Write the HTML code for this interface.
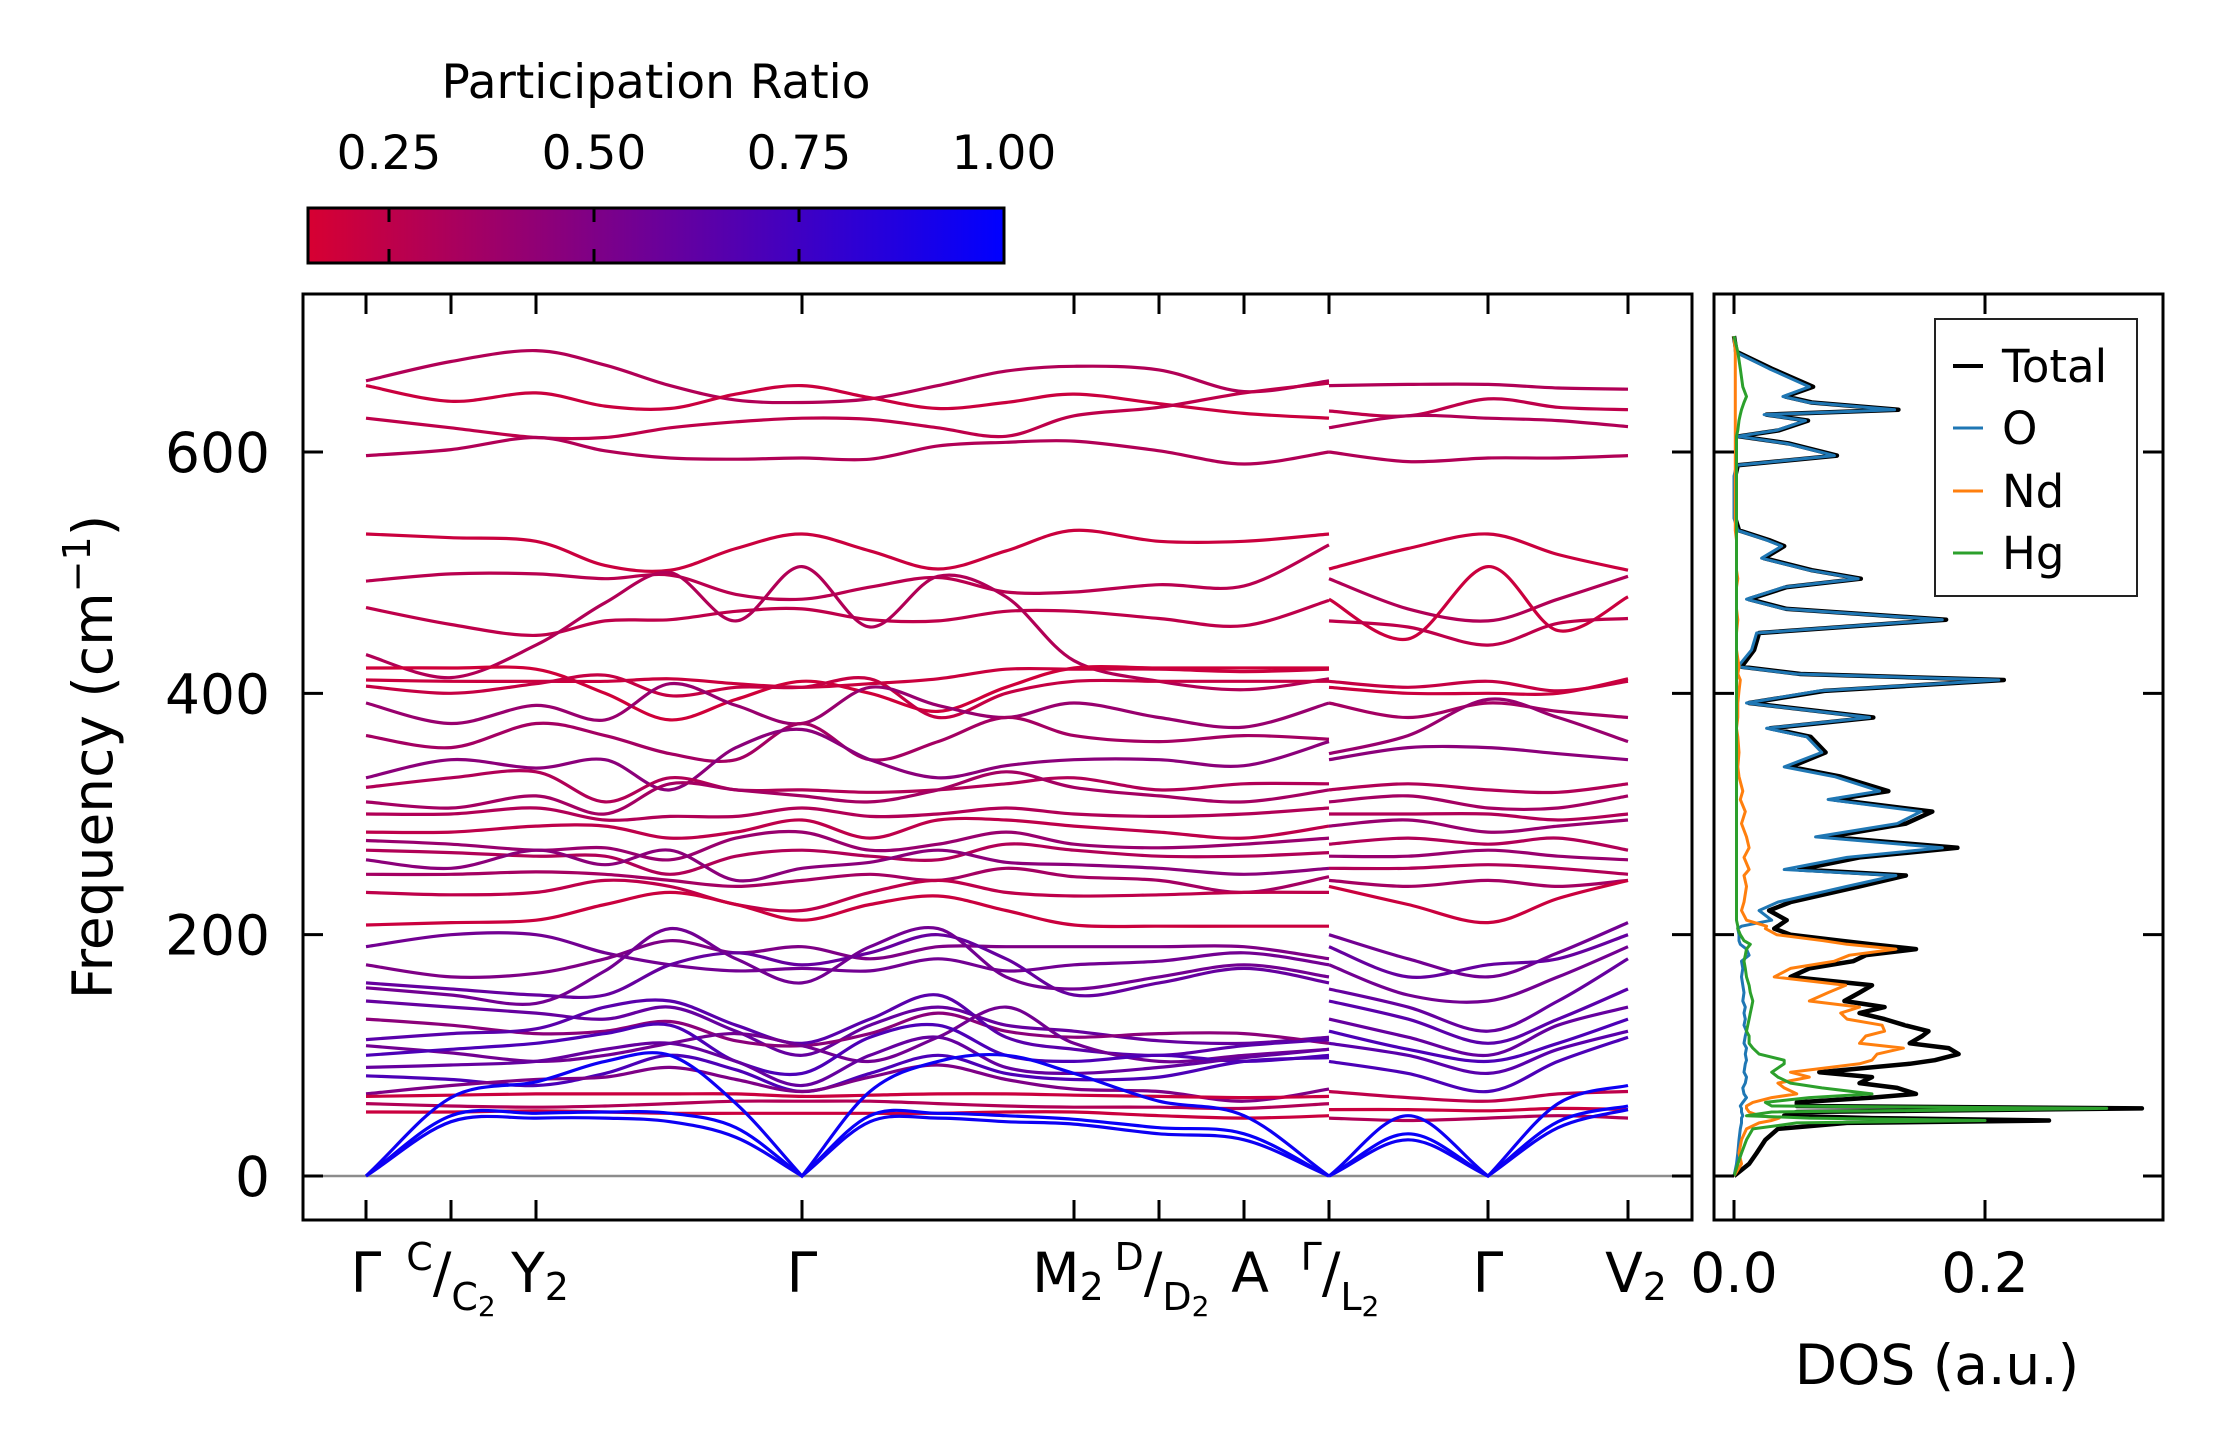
<!DOCTYPE html>
<html><head><meta charset="utf-8"><style>
html,body{margin:0;padding:0;background:#fff;}
svg{display:block;font-family:"DejaVu Sans","Liberation Sans",sans-serif;}
</style></head><body>
<svg id="fig" width="2222" height="1455" viewBox="0 0 2222 1455" xmlns="http://www.w3.org/2000/svg">
<defs>
<linearGradient id="cmap" x1="0" x2="1" y1="0" y2="0">
<stop offset="0" stop-color="rgb(215,0,50)"/><stop offset="1" stop-color="rgb(0,0,255)"/>
</linearGradient>
</defs>
<g>
<text x="656" y="98" font-size="47" text-anchor="middle">Participation Ratio</text>
<rect x="308" y="208" width="696" height="55" fill="url(#cmap)" stroke="#000" stroke-width="3"/>
<g id="cbticks"></g>
</g>
<g id="bandsG">
<line x1="303" x2="1692" y1="1176" y2="1176" stroke="#8c8c8c" stroke-width="2.5"/>
<g id="bandLines"></g>
<rect x="303" y="294" width="1389" height="926" fill="none" stroke="#000" stroke-width="3"/>
<g id="bandTicks"></g>
<text transform="translate(112,757) rotate(-90)" font-size="55" text-anchor="middle">Frequency (cm<tspan font-size="38" dy="-22">−1</tspan><tspan dy="22">)</tspan></text>
<g font-size="55">
<text x="366" y="1292" text-anchor="middle">Γ</text>
<text x="451" y="1292" text-anchor="middle"><tspan font-size="38" dy="-22">C</tspan><tspan dy="22">/</tspan><tspan font-size="38" dy="18">C</tspan><tspan font-size="28" dy="6">2</tspan></text>
<text x="540" y="1292" text-anchor="middle">Y<tspan font-size="38" dy="8">2</tspan></text>
<text x="802" y="1292" text-anchor="middle">Γ</text>
<text x="1068" y="1292" text-anchor="middle">M<tspan font-size="38" dy="8">2</tspan></text>
<text x="1162" y="1292" text-anchor="middle"><tspan font-size="38" dy="-22">D</tspan><tspan dy="22">/</tspan><tspan font-size="38" dy="18">D</tspan><tspan font-size="28" dy="6">2</tspan></text>
<text x="1250" y="1292" text-anchor="middle">A</text>
<text x="1340" y="1292" text-anchor="middle"><tspan font-size="38" dy="-22">Γ</tspan><tspan dy="22">/</tspan><tspan font-size="38" dy="18">L</tspan><tspan font-size="28" dy="6">2</tspan></text>
<text x="1488" y="1292" text-anchor="middle">Γ</text>
<text x="1636" y="1292" text-anchor="middle">V<tspan font-size="38" dy="8">2</tspan></text>
</g>
</g>
<g id="dosG">
<g id="dosLines"></g>
<rect x="1714" y="294" width="449" height="926" fill="none" stroke="#000" stroke-width="3"/>
<g id="dosTicks"></g>
<text x="1937" y="1384" font-size="55" text-anchor="middle">DOS (a.u.)</text>
<g>
<rect x="1935" y="319" width="202" height="277" fill="#fff" stroke="#222" stroke-width="2"/>
<line x1="1953" x2="1983" y1="366" y2="366" stroke="#000" stroke-width="4"/>
<text x="2002" y="382" font-size="45">Total</text>
<line x1="1953" x2="1983" y1="428" y2="428" stroke="#1f77b4" stroke-width="3"/>
<text x="2002" y="444" font-size="45">O</text>
<line x1="1953" x2="1983" y1="491" y2="491" stroke="#ff7f0e" stroke-width="3"/>
<text x="2002" y="507" font-size="45">Nd</text>
<line x1="1953" x2="1983" y1="553" y2="553" stroke="#2ca02c" stroke-width="3"/>
<text x="2002" y="569" font-size="45">Hg</text>
</g>
</g>
</svg>
<script>
// ---------- data ----------
const cbTicks = [0.25, 0.5, 0.75, 1.0];
const cbTickLabels = ["0.25", "0.50", "0.75", "1.00"];
const freqTicks = [0, 200, 400, 600];
const kTickPos = [0, 0.85, 1.7, 4.36, 7.08, 7.93, 8.78, 9.63, 11.22, 12.62];
const kSampleA = [0, 0.85, 1.7, 2.39, 3.04, 3.7, 4.36, 5.04, 5.72, 6.4, 7.08, 7.93, 8.78, 9.63];
const kSampleB = [9.63, 10.42, 11.22, 11.92, 12.62];
const bandsA = [
[659,675,684,672,655,643,641,644,655,667,671,668,650,659],
[655,642,649,638,636,648,655,645,636,641,648,640,632,628],
[628,620,612,612,620,625,628,627,620,613,630,637,649,657],
[597,602,612,601,595,594,595,594,605,608,609,601,590,600],
[532,529,526,506,502,520,532,518,503,518,535,526,526,532],
[493,499,499,495,498,482,478,488,496,484,484,490,489,523],
[471,457,448,460,461,468,470,461,460,468,468,462,456,477],
[432,413,440,475,500,460,505,455,497,480,427,410,403,412],
[421,421,420,400,378,395,410,400,385,405,421,421,421,421],
[411,410,410,410,412,408,405,408,412,420,420,420,418,420],
[406,400,408,415,398,405,405,412,380,400,410,410,410,410],
[392,375,390,378,408,390,375,405,390,380,392,380,372,392],
[365,355,375,365,350,345,375,345,360,380,365,360,365,362],
[330,345,338,345,320,355,370,345,330,340,345,345,340,360],
[322,330,335,310,330,320,320,318,320,325,330,320,325,325],
[310,305,315,300,325,320,315,310,320,335,322,315,310,320],
[300,300,305,295,298,298,305,298,300,305,300,298,300,305],
[285,285,290,290,280,285,295,280,295,295,290,285,280,290],
[278,275,270,272,262,280,285,270,275,285,275,272,275,280],
[270,268,265,265,250,265,270,265,262,275,270,265,265,268],
[262,255,270,258,270,245,255,260,270,260,258,255,250,255],
[250,250,252,250,245,240,245,250,245,255,248,245,235,248],
[235,233,235,245,240,225,220,235,245,235,232,233,235,235],
[208,210,212,225,235,225,212,225,232,220,208,207,207,207],
[190,200,200,185,175,170,172,170,180,170,175,178,185,175],
[175,165,168,180,195,185,190,180,190,190,190,190,190,180],
[160,155,150,150,175,185,175,185,200,180,150,160,172,160],
[156,150,143,170,205,180,160,190,205,165,155,165,175,165],
[145,140,135,130,140,120,100,125,140,125,120,112,110,115],
[130,125,118,120,128,112,108,118,135,120,115,118,118,110],
[113,118,122,140,145,125,110,130,150,115,105,100,108,113],
[108,102,95,100,110,118,108,95,115,140,110,95,100,105],
[100,105,110,118,125,95,85,115,125,100,95,100,95,100],
[90,92,95,105,110,95,75,100,115,90,85,90,98,105],
[83,80,75,85,100,88,70,85,100,85,80,82,95,98],
[68,75,80,82,90,80,70,82,92,80,72,70,62,72],
[66,67,68,68,68,68,66,67,68,68,67,66,65,66],
[60,58,57,58,60,62,62,62,60,58,57,57,56,60],
[53,53,54,53,52,52,52,52,52,53,53,50,48,50],
[0,65,78,95,100,60,0,70,95,100,85,62,50,0],
[0,50,52,53,52,40,0,50,52,50,47,40,35,0],
[0,45,48,48,45,32,0,45,48,45,43,35,30,0]
];
const prA = [0.3,0.2,0.25,0.3,0.2,0.27,0.25,0.3,0.18,0.2,0.22,0.4,0.35,0.45,0.3,0.35,0.3,0.25,0.4,0.3,0.45,0.35,0.25,0.2,0.55,0.5,0.6,0.55,0.6,0.45,0.65,0.55,0.7,0.6,0.7,0.5,0.2,0.3,0.2,0.95,0.97,0.95];
const bandsB = [
[655,656,656,653,652],[634,630,644,637,635],[620,630,628,626,621],[600,592,595,595,597],
[503,520,532,515,502],[495,470,460,478,497],[478,445,505,452,480],[460,455,440,458,462],
[410,405,410,402,410],[405,400,400,400,412],[392,380,392,385,380],[350,365,395,380,360],[345,355,355,350,345],
[320,325,320,318,325],[310,315,305,305,315],[300,300,300,295,300],[290,295,285,290,295],[275,280,275,280,270],
[265,265,270,265,262],[255,255,258,255,250],[245,240,245,240,245],[240,225,210,230,245],
[200,180,165,185,210],[190,165,175,180,200],[175,150,145,165,190],[155,140,120,145,180],[145,130,110,130,155],
[130,115,100,125,140],[120,105,95,110,130],[110,100,85,105,120],[95,85,70,95,115],[70,65,62,68,70],
[55,55,54,56,55],[48,46,48,50,48],[0,50,0,60,75],[0,35,0,45,58],[0,30,0,40,55]
];
const prB = [0.3,0.25,0.3,0.3,0.2,0.3,0.2,0.25,0.22,0.2,0.35,0.4,0.45,0.3,0.35,0.3,0.4,0.3,0.4,0.3,0.35,0.2,0.55,0.6,0.55,0.6,0.65,0.6,0.7,0.65,0.7,0.25,0.2,0.3,0.95,0.97,0.95];

const dosTicks = [0.0, 0.2];
const dosTickLabels = ["0.0", "0.2"];
const dosFreq = [0,10,19,30,39,44,46,48,50,53,56,58,61,65,68,73,77,82,86,93,96,101,106,110,116,120,125,130,135,140,145,152,158,165,172,178,183,188,192,195,200,205,207,212,220,227,240,249,254,264,272,281,292,302,312,319,331,339,351,364,371,380,392,402,411,416,422,436,450,461,470,478,488,495,502,512,522,527,535,545,560,580,589,597,607,613,618,626,631,635,641,646,654,669,683,696];
const dosTotal = [0,0.012,0.018,0.025,0.035,0.09,0.251,0.11,0.04,0.05,0.325,0.05,0.05,0.11,0.145,0.13,0.1,0.11,0.068,0.14,0.16,0.179,0.171,0.14,0.15,0.155,0.136,0.12,0.1,0.12,0.088,0.1,0.11,0.045,0.06,0.095,0.105,0.145,0.11,0.085,0.045,0.032,0.035,0.042,0.028,0.045,0.1,0.137,0.052,0.1,0.178,0.075,0.137,0.158,0.08,0.123,0.085,0.045,0.073,0.061,0.029,0.111,0.012,0.072,0.215,0.053,0.006,0.016,0.02,0.169,0.042,0.012,0.042,0.101,0.062,0.024,0.04,0.028,0.004,0.001,0.001,0.001,0.003,0.082,0.044,0.004,0.036,0.059,0.026,0.131,0.062,0.041,0.063,0.03,0.002,0];
const dosO = [0,0.002,0.003,0.004,0.005,0.006,0.006,0.006,0.007,0.006,0.006,0.005,0.007,0.01,0.008,0.007,0.009,0.01,0.008,0.009,0.01,0.009,0.01,0.008,0.009,0.01,0.008,0.009,0.008,0.009,0.007,0.008,0.007,0.006,0.007,0.006,0.012,0.01,0.005,0.004,0.004,0.003,0.006,0.03,0.02,0.035,0.09,0.129,0.04,0.09,0.166,0.065,0.13,0.149,0.075,0.116,0.08,0.04,0.07,0.058,0.026,0.108,0.01,0.068,0.211,0.05,0.003,0.014,0.018,0.166,0.04,0.01,0.04,0.099,0.06,0.022,0.038,0.026,0.003,0,0,0,0.002,0.08,0.042,0.003,0.034,0.057,0.024,0.128,0.06,0.039,0.06,0.028,0.001,0];
const dosNd = [0,0.006,0.004,0.006,0.01,0.02,0.03,0.036,0.02,0.012,0.01,0.01,0.015,0.03,0.05,0.04,0.035,0.06,0.045,0.1,0.11,0.114,0.135,0.1,0.105,0.12,0.118,0.09,0.085,0.1,0.06,0.075,0.089,0.032,0.045,0.08,0.092,0.129,0.09,0.071,0.034,0.025,0.026,0.01,0.006,0.008,0.01,0.008,0.012,0.008,0.012,0.01,0.006,0.009,0.005,0.007,0.004,0.003,0.004,0.003,0.002,0.003,0.003,0.004,0.005,0.003,0.004,0.002,0.002,0.003,0.002,0.002,0.002,0.003,0.002,0.002,0.002,0.002,0.001,0.001,0.001,0.001,0.001,0.001,0.001,0.001,0.001,0.001,0.001,0.001,0.001,0.001,0.001,0.001,0.001,0];
const dosHg = [0,0.003,0.006,0.01,0.015,0.05,0.2,0.06,0.01,0.03,0.297,0.03,0.025,0.06,0.11,0.07,0.045,0.035,0.03,0.04,0.04,0.02,0.015,0.012,0.012,0.01,0.011,0.012,0.013,0.014,0.015,0.013,0.012,0.01,0.009,0.008,0.009,0.01,0.013,0.008,0.005,0.003,0.003,0.002,0.002,0.002,0.002,0.002,0.002,0.002,0.002,0.002,0.002,0.002,0.002,0.002,0.002,0.002,0.002,0.002,0.002,0.002,0.002,0.002,0.002,0.002,0.002,0.002,0.002,0.002,0.002,0.002,0.002,0.002,0.002,0.002,0.002,0.002,0.002,0.002,0.002,0.002,0.002,0.002,0.002,0.002,0.003,0.004,0.005,0.006,0.008,0.01,0.007,0.005,0.003,0];

// ---------- scales ----------
const NS = "http://www.w3.org/2000/svg";
function yScale(f){ return 1176 - f * 1.2067; }
function kScale(k){ return 366 + k * 100; }
function dosX(v){ return 1734 + v * 1255; }
function cbX(v){ return 389 + (v - 0.25) * 820; }
function prColor(p){
  let t = (p - 0.15) / 0.85; t = Math.max(0, Math.min(1, t));
  return "rgb(" + Math.round(215*(1-t)) + ",0," + Math.round(50 + 205*t) + ")";
}
// Catmull-Rom; at zero-frequency (Gamma) points use straight tangents -> V shape
function smoothPath(pts, vals){
  const y0 = yScale(0);
  let d = "M" + pts[0][0].toFixed(1) + "," + pts[0][1].toFixed(1);
  for (let i = 0; i < pts.length - 1; i++){
    const p0 = pts[Math.max(0,i-1)], p1 = pts[i], p2 = pts[i+1], p3 = pts[Math.min(pts.length-1,i+2)];
    let c1x, c1y, c2x, c2y;
    if (vals[i] === 0) { c1x = p1[0] + (p2[0]-p1[0])/3; c1y = p1[1] + (p2[1]-p1[1])/3; }
    else { c1x = p1[0] + (p2[0]-p0[0])/6; c1y = p1[1] + (p2[1]-p0[1])/6; }
    if (vals[i+1] === 0) { c2x = p2[0] - (p2[0]-p1[0])/3; c2y = p2[1] - (p2[1]-p1[1])/3; }
    else { c2x = p2[0] - (p3[0]-p1[0])/6; c2y = p2[1] - (p3[1]-p1[1])/6; }
    c1y = Math.min(c1y, y0); c2y = Math.min(c2y, y0);
    d += " C" + c1x.toFixed(1) + "," + c1y.toFixed(1) + " " + c2x.toFixed(1) + "," + c2y.toFixed(1) + " " + p2[0].toFixed(1) + "," + p2[1].toFixed(1);
  }
  return d;
}
function mk(tag, attrs, parent){
  const el = document.createElementNS(NS, tag);
  for (const k in attrs) el.setAttribute(k, attrs[k]);
  parent.appendChild(el);
  return el;
}

// ---------- colorbar ticks ----------
const cbG = document.getElementById("cbticks");
cbTicks.forEach((v, i) => {
  const x = cbX(v);
  if (v < 1.0) {
    const a = mk("line", {x1:x, x2:x, y1:208, y2:222, stroke:"#000", "stroke-width":3}, cbG);
    
    
    const b = mk("line", {x1:x, x2:x, y1:249, y2:263, stroke:"#000", "stroke-width":3}, cbG);
    
    
  }
  const t = mk("text", {x:x, y:169, "font-size":47, "text-anchor":"middle"}, cbG);
  t.textContent = cbTickLabels[i];
  
  
});

// ---------- bands ----------
const bl = document.getElementById("bandLines");
function drawBands(bands, ks, prs){
  bands.forEach((b, j) => {
    const pts = b.map((f, i) => [kScale(ks[i]), yScale(f)]);
    const p = mk("path", {d: smoothPath(pts, b), fill:"none", stroke: prColor(prs[j]), "stroke-width":3.2}, bl);
    
    
  });
}
drawBands(bandsA, kSampleA, prA);
drawBands(bandsB, kSampleB, prB);

// ---------- band axis ticks ----------
const bt = document.getElementById("bandTicks");
freqTicks.forEach(f => {
  const y = yScale(f);
  const l1 = mk("line", {x1:303, x2:323, y1:y, y2:y, stroke:"#000", "stroke-width":3}, bt);
  
  
  const l2 = mk("line", {x1:1672, x2:1692, y1:y, y2:y, stroke:"#000", "stroke-width":3}, bt);
  
  
  const t = mk("text", {x:270, y:y+20, "font-size":55, "text-anchor":"end"}, bt);
  t.textContent = String(f);
  
  
});
kTickPos.forEach(k => {
  const x = kScale(k);
  const a = mk("line", {x1:x, x2:x, y1:294, y2:314, stroke:"#000", "stroke-width":3}, bt);
  
  
  const b = mk("line", {x1:x, x2:x, y1:1200, y2:1220, stroke:"#000", "stroke-width":3}, bt);
  
  
});

// ---------- DOS ----------
const dl = document.getElementById("dosLines");
function drawDos(vals, color, w, name){
  const pts = vals.map((v, i) => dosX(v).toFixed(1) + "," + yScale(dosFreq[i]).toFixed(1)).join(" ");
  const p = mk("polyline", {points: pts, fill:"none", stroke: color, "stroke-width": w, "stroke-linejoin":"round"}, dl);
  
  
}
drawDos(dosTotal, "#000", 4.5, "dos-total-line");
drawDos(dosO, "#1f77b4", 3, "dos-o-line");
drawDos(dosNd, "#ff7f0e", 3, "dos-nd-line");
drawDos(dosHg, "#2ca02c", 3, "dos-hg-line");

const dt = document.getElementById("dosTicks");
freqTicks.forEach(f => {
  const y = yScale(f);
  const a = mk("line", {x1:1714, x2:1734, y1:y, y2:y, stroke:"#000", "stroke-width":3}, dt);
  
  
  const b = mk("line", {x1:2143, x2:2163, y1:y, y2:y, stroke:"#000", "stroke-width":3}, dt);
  
  
});
dosTicks.forEach((v, i) => {
  const x = dosX(v);
  const a = mk("line", {x1:x, x2:x, y1:294, y2:314, stroke:"#000", "stroke-width":3}, dt);
  
  
  const b = mk("line", {x1:x, x2:x, y1:1200, y2:1220, stroke:"#000", "stroke-width":3}, dt);
  
  
  const t = mk("text", {x:x, y:1292, "font-size":55, "text-anchor":"middle"}, dt);
  t.textContent = dosTickLabels[i];
  
  
});
</script>
</body></html>
